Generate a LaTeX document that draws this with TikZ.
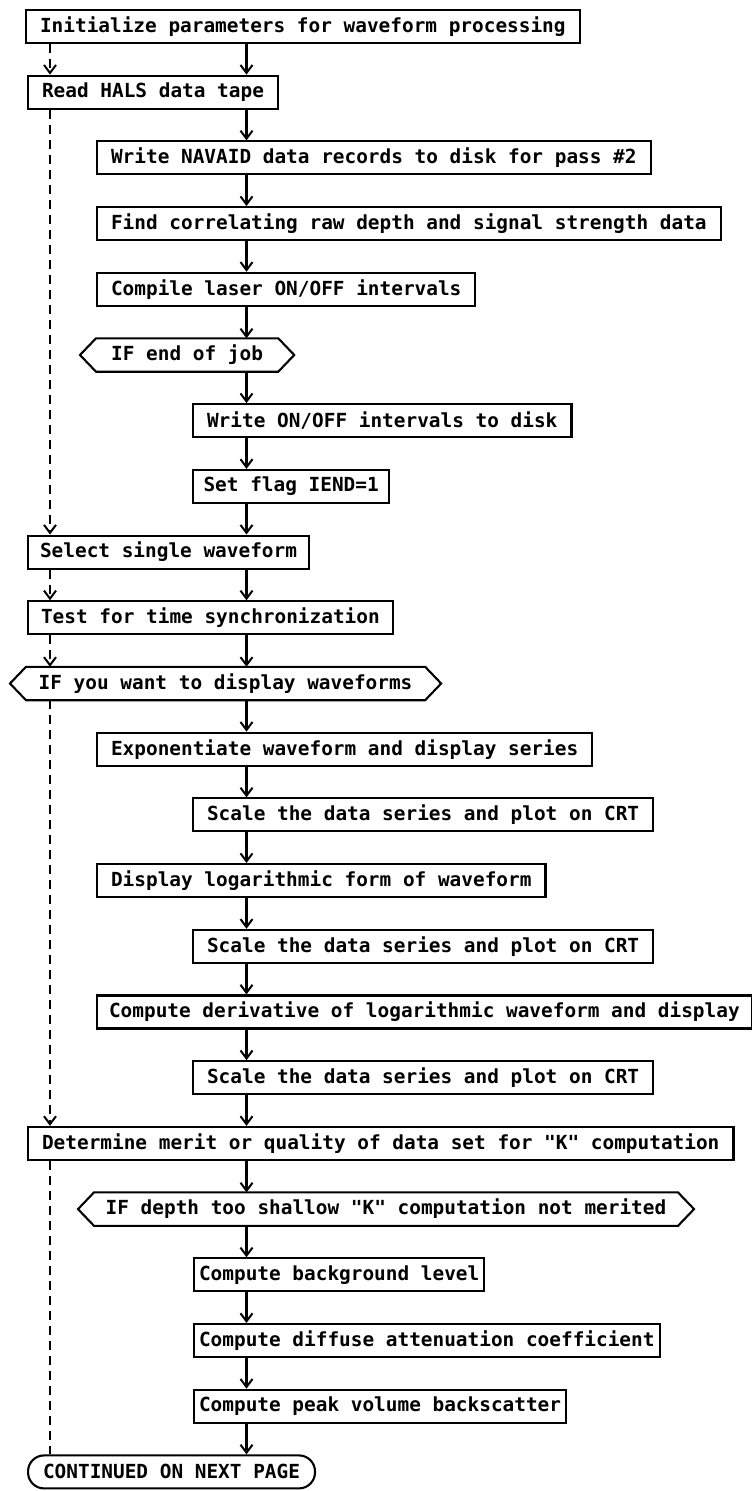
\documentclass[tikz,border=0pt]{standalone}
\usepackage{fontspec}
\setmonofont{DejaVu Sans Mono}
\usetikzlibrary{arrows.meta}
\tikzset{
  lw/.style={line width=2.1pt},
  txt/.style={font=\fontsize{19.4}{20}\selectfont\ttfamily\bfseries, minimum height=33pt, inner ysep=0pt, anchor=west},
  box/.style={txt, draw, lw, inner xsep=14pt},
  hexa/.style={txt, inner xsep=12pt},
  term/.style={box, rounded corners=16pt},
  flow/.style={lw, -{Straight Barb[length=8pt,width=12pt,line width=2pt]}},
  dflow/.style={flow, dash pattern=on 9pt off 6pt},
  dline/.style={lw, dash pattern=on 9pt off 6pt},
}
\begin{document}
\begin{tikzpicture}[x=1pt,y=-1pt]
\useasboundingbox (0,0) rectangle (752,1491);
\coordinate (sp) at (246.5,0);
\coordinate (dl) at (50,0);

\node[box] (n0) at (25,26.5) {Initialize parameters for waveform processing};
\node[box] (n1) at (27,92.2) {Read HALS data tape};
\node[box] (n2) at (96,157.9) {Write NAVAID data records to disk for pass \#2};
\node[box] (n3) at (96,223.6) {Find correlating raw depth and signal strength data};
\node[box] (n4) at (96,289.3) {Compile laser ON/OFF intervals};
\node[hexa, inner xsep=15pt] (n5) at (96,355.0) {IF end of job};
\node[box] (n6) at (192,420.7) {Write ON/OFF intervals to disk};
\node[box, inner xsep=10.5pt] (n7) at (192,486.4) {Set flag IEND=1};
\node[box, inner xsep=12pt] (n8) at (27,552.1) {Select single waveform};
\node[box, inner xsep=13pt] (n9) at (27,617.8) {Test for time synchronization};
\node[hexa, inner xsep=12.5pt] (n10) at (26,683.5) {IF you want to display waveforms};
\node[box] (n11) at (96,749.2) {Exponentiate waveform and display series};
\node[box] (n12) at (192,814.9) {Scale the data series and plot on CRT};
\node[box] (n13) at (96,880.6) {Display logarithmic form of waveform};
\node[box] (n14) at (192,946.3) {Scale the data series and plot on CRT};
\node[box, inner xsep=12pt] (n15) at (96,1012.0) {Compute derivative of logarithmic waveform and display};
\node[box] (n16) at (192,1077.7) {Scale the data series and plot on CRT};
\node[box, inner xsep=14pt] (n17) at (27,1143.4) {Determine merit or quality of data set for "K" computation};
\node[hexa, inner xsep=11.5pt] (n18) at (94,1209.1) {IF depth too shallow "K" computation not merited};
\node[box, inner xsep=5pt] (n19) at (193,1274.8) {Compute background level};
\node[box, inner xsep=5pt] (n20) at (193,1340.5) {Compute diffuse attenuation coefficient};
\node[box, inner xsep=5pt] (n21) at (193,1406.2) {Compute peak volume backscatter};
\node[term, inner xsep=15pt] (n22) at (27,1471.9) {CONTINUED ON NEXT PAGE};

\foreach \h in {n5,n10,n18}
  \draw[lw, line join=miter] (\h.north west) -- (\h.north east) -- ([xshift=16pt]\h.east)
     -- (\h.south east) -- (\h.south west) -- ([xshift=-16pt]\h.west) -- cycle;

\foreach \a/\b in {n0/n1,n1/n2,n2/n3,n3/n4,n4/n5,n5/n6,n6/n7,n7/n8,n8/n9,n9/n10,
  n10/n11,n11/n12,n12/n13,n13/n14,n14/n15,n15/n16,n16/n17,n17/n18,n18/n19,
  n19/n20,n20/n21,n21/n22}
  \draw[flow] (\a.south -| sp) -- (\b.north -| sp);

\foreach \a/\b in {n0/n1,n1/n8,n8/n9,n9/n10,n10/n17}
  \draw[dflow] (\a.south -| dl) -- (\b.north -| dl);
\draw[dline] (n17.south -| dl) -- (n22.north -| dl);
\end{tikzpicture}
\end{document}
